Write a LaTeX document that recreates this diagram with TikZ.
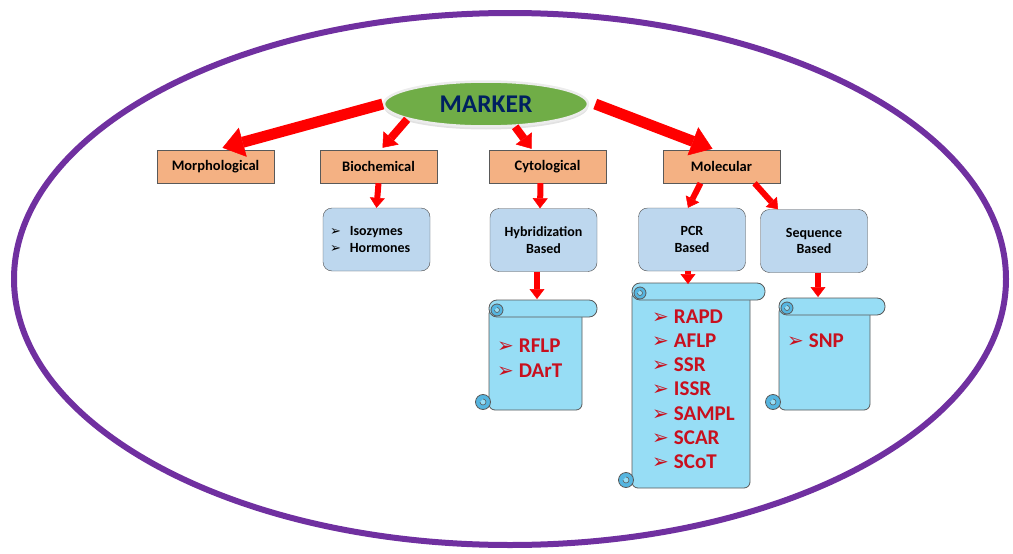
\documentclass[tikz,border=0pt]{standalone}
\usepackage{fontspec}
\setmainfont{Carlito}
\newfontfamily\dejavu{DejaVu Sans}
\usetikzlibrary{arrows.meta,shapes.geometric,shadows}

\definecolor{rimpurple}{HTML}{7030A0}
\definecolor{markergreen}{HTML}{70AD47}
\definecolor{markernavy}{HTML}{002060}
\definecolor{boxorange}{HTML}{F4B183}
\definecolor{boxblue}{HTML}{BDD7EE}
\definecolor{paperblue}{HTML}{97DDF5}
\definecolor{curlblue}{HTML}{55B5E0}
\definecolor{itemred}{HTML}{C8101E}

\newcommand{\bul}{{\dejavu\fontsize{13}{13}\selectfont ➢}}
\newcommand{\rbul}{{\dejavu\fontsize{20}{20}\selectfont ➢}}
% scroll: left x, roll top y, roll right x, bottom y
\newcommand{\scrollbox}[4]{%
  \draw[scrollpaper, rounded corners=6pt] ({#1},{#2+8}) rectangle ({#3-15},{#4});
  \draw[scrollcurl] ({#1-6},{#4-8}) circle (7.5pt);
  \draw[scrollpaper, line width=0.6pt] ({#1-6},{#4-8}) ++(0,-3) arc[start angle=90, end angle=-180, radius=3pt];
  \draw[scrollpaper, rounded corners=8pt] ({#1},{#2}) rectangle ({#3},{#2+17});
  \draw[scrollcurl] ({#1+8},{#2+10}) circle (6pt);
  \draw[scrollpaper, line width=0.6pt] ({#1+8},{#2+10}) ++(0,-2.5) arc[start angle=90, end angle=-180, radius=2.5pt];
}

\begin{document}
\begin{tikzpicture}[x=1pt, y=-1pt,
    typebox/.style={draw=gray!70!black, fill=boxorange, minimum width=117pt, minimum height=33pt, inner sep=0pt, font=\fontsize{14.5}{17}\selectfont\bfseries},
    basisbox/.style={draw=gray!60!black, fill=boxblue, rounded corners=9pt, minimum width=107pt, minimum height=63pt, align=center, font=\fontsize{14}{16.5}\selectfont\bfseries},
    markeroval/.style={ellipse, draw=white!85!gray, line width=2.5pt, fill=markergreen, minimum width=204pt, minimum height=45pt, inner sep=0pt, text=markernavy, font=\fontsize{25.5}{25.5}\selectfont\bfseries, drop shadow={shadow xshift=0pt, shadow yshift=-3pt, fill=gray!45}},
    scrollpaper/.style={draw=black!65, fill=paperblue, line width=0.8pt},
    scrollcurl/.style={draw=black!65, fill=curlblue, line width=0.8pt},
    itemtext/.style={anchor=base west, inner sep=0pt, text=itemred, font=\fontsize{21}{21}\selectfont\bfseries},
    bigarrow/.style={draw=red, line width=11pt, -{Triangle[width=30pt,length=21pt,line width=0.5pt]}},
    midarrow/.style={draw=red, line width=8pt, -{Triangle[width=20pt,length=13pt,line width=0.5pt]}},
    downarrow/.style={draw=red, line width=6pt, -{Triangle[width=15pt,length=10pt,line width=0.5pt]}}
  ]
  \useasboundingbox (0,0) rectangle (1013,554);
  \draw[rimpurple, line width=6pt] (510,279) ellipse [x radius=496, y radius=266];

  % top of the tree
  \node[markeroval] (marker) at (486,104) {MARKER};

  \node[typebox] (morph) at (215.5,166.5) {Morphological};
  \node[typebox] (bio) at (378.5,166.5) {Biochemical};
  \node[typebox] (cyto) at (547.5,166.5) {Cytological};
  \node[typebox] (mol) at (721.5,166.5) {Molecular};

  \draw[bigarrow] (marker.west) -- ([xshift=7pt, yshift=2pt]morph.north);
  \draw[midarrow] (marker.191) -- ([xshift=4pt, yshift=2pt]bio.north);
  \draw[midarrow] (marker.322) -- ([xshift=-16pt, yshift=1pt]cyto.north);
  \draw[bigarrow] ([xshift=6pt]marker.east) -- ([xshift=-9pt, yshift=1pt]mol.north);

  % second level
  \node[basisbox, align=left, text width=93pt, inner xsep=7pt] (iso) at (376.5,239.5) {\bul\hspace{9pt}Isozymes\\\bul\hspace{9pt}Hormones};
  \node[basisbox] (hyb) at (543.5,240) {Hybridization\\Based};
  \node[basisbox] (pcr) at (692,239.5) {PCR\\Based};
  \node[basisbox] (seq) at (814,241) {Sequence\\Based};

  \draw[downarrow] (bio.south) -- (iso.north);
  \draw[downarrow] ([xshift=-7pt]cyto.south) -- ([xshift=-3.5pt]hyb.north);
  \draw[downarrow] ([xshift=-21pt]mol.south) -- ([xshift=-4pt]pcr.north);
  \draw[downarrow] ([xshift=33pt]mol.south) -- ([xshift=-36pt]seq.north);

  % scrolls with the marker types
  \scrollbox{489}{300}{597}{410}
  \scrollbox{632}{283}{765}{488}
  \scrollbox{779}{298}{885}{410}

  \coordinate (rflplist) at (537,299);
  \coordinate (pcrlist) at (688,284);
  \coordinate (snplist) at (818,297);
  \draw[downarrow] (hyb.south -| rflplist) -- (rflplist);
  \draw[downarrow] (pcr.south -| pcrlist) -- (pcrlist);
  \draw[downarrow] (seq.south -| snplist) -- (snplist);

  \foreach \lbl [count=\i] in {RFLP,DArT}
    \node[itemtext] (hybitem\i) at (497, {352+25*(\i-1)}) {\rbul\hspace{5pt}\lbl};
  \foreach \lbl [count=\i] in {RAPD,AFLP,SSR,ISSR,SAMPL,SCAR,SCoT}
    \node[itemtext] (pcritem\i) at (652, {323+24.3*(\i-1)}) {\rbul\hspace{5pt}\lbl};
  \node[itemtext] (seqitem1) at (787,347) {\rbul\hspace{5pt}SNP};
\end{tikzpicture}
\end{document}
